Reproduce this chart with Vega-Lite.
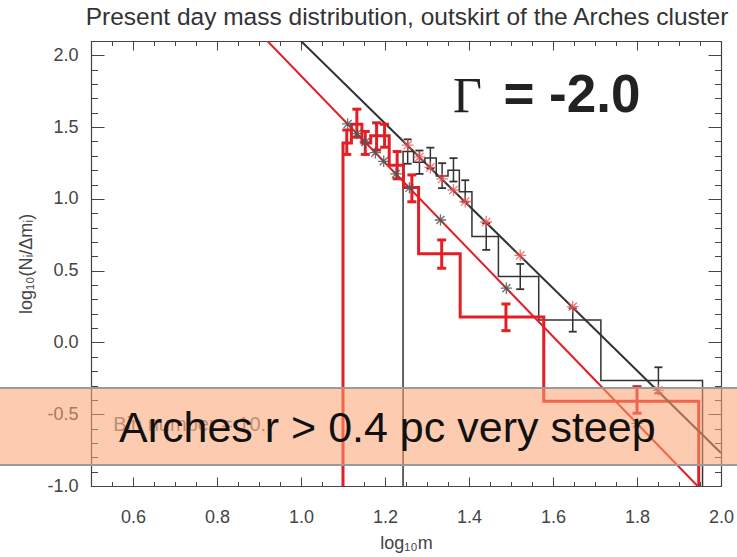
{
  "$schema": "https://vega.github.io/schema/vega-lite/v6.json",
  "width": 630,
  "height": 445,
  "autosize": {"type": "none"},
  "padding": {"left": 91, "top": 41, "right": 16, "bottom": 71},
  "background": "white",
  "config": {"view": {"stroke": null}, "font": "Liberation Sans"},
  "datasets": {
    "blackHist": [
      {"x": 1.243, "y": -1.0, "i": 0},
      {"x": 1.243, "y": 1.33, "i": 1},
      {"x": 1.268, "y": 1.255, "i": 2},
      {"x": 1.295, "y": 1.285, "i": 3},
      {"x": 1.322, "y": 1.16, "i": 4},
      {"x": 1.35, "y": 1.2, "i": 5},
      {"x": 1.377, "y": 1.05, "i": 6},
      {"x": 1.407, "y": 0.738, "i": 7},
      {"x": 1.47, "y": 0.46, "i": 8},
      {"x": 1.566, "y": 0.157, "i": 9},
      {"x": 1.714, "y": -0.265, "i": 10},
      {"x": 1.956, "y": -0.265, "i": 11},
      {"x": 1.956, "y": -1.0, "i": 12}
    ],
    "redHist": [
      {"x": 1.1, "y": -1.0, "i": 0},
      {"x": 1.1, "y": 1.39, "i": 1},
      {"x": 1.12, "y": 1.52, "i": 2},
      {"x": 1.145, "y": 1.39, "i": 3},
      {"x": 1.166, "y": 1.44, "i": 4},
      {"x": 1.19, "y": 1.44, "i": 5},
      {"x": 1.21, "y": 1.235, "i": 6},
      {"x": 1.244, "y": 1.08, "i": 7},
      {"x": 1.28, "y": 0.618, "i": 8},
      {"x": 1.379, "y": 0.178, "i": 9},
      {"x": 1.578, "y": -0.41, "i": 10},
      {"x": 1.947, "y": -0.41, "i": 11},
      {"x": 1.947, "y": -1.0, "i": 12}
    ],
    "blackFit": [{"x": 1.0, "y": 2.1}, {"x": 2.0, "y": -0.77}],
    "redFit": [{"x": 0.92, "y": 2.1}, {"x": 1.944, "y": -1.0}],
    "blackErr": [
      {"x": 1.254, "lo": 1.245, "hi": 1.415},
      {"x": 1.282, "lo": 1.174, "hi": 1.337},
      {"x": 1.308, "lo": 1.213, "hi": 1.357},
      {"x": 1.336, "lo": 1.075, "hi": 1.249},
      {"x": 1.363, "lo": 1.121, "hi": 1.284},
      {"x": 1.391, "lo": 0.98, "hi": 1.13},
      {"x": 1.441, "lo": 0.645, "hi": 0.831},
      {"x": 1.522, "lo": 0.371, "hi": 0.547},
      {"x": 1.647, "lo": 0.075, "hi": 0.238},
      {"x": 1.851, "lo": -0.354, "hi": -0.173}
    ],
    "redErr": [
      {"x": 1.109, "lo": 1.31, "hi": 1.48},
      {"x": 1.133, "lo": 1.43, "hi": 1.625},
      {"x": 1.153, "lo": 1.31, "hi": 1.47},
      {"x": 1.18, "lo": 1.34, "hi": 1.53},
      {"x": 1.199, "lo": 1.36, "hi": 1.52},
      {"x": 1.229, "lo": 1.14, "hi": 1.33},
      {"x": 1.264, "lo": 0.98, "hi": 1.167},
      {"x": 1.335, "lo": 0.517, "hi": 0.714},
      {"x": 1.488, "lo": 0.082, "hi": 0.268},
      {"x": 1.8, "lo": -0.493, "hi": -0.308}
    ],
    "grayStars": [
      {"x": 1.111, "y": 1.522},
      {"x": 1.133, "y": 1.455},
      {"x": 1.153, "y": 1.395},
      {"x": 1.177, "y": 1.322},
      {"x": 1.197, "y": 1.262},
      {"x": 1.226, "y": 1.174},
      {"x": 1.258, "y": 1.077},
      {"x": 1.332, "y": 0.853},
      {"x": 1.489, "y": 0.378},
      {"x": 1.8, "y": -0.564}
    ],
    "pinkStars": [
      {"x": 1.254, "y": 1.374},
      {"x": 1.282, "y": 1.293},
      {"x": 1.308, "y": 1.219},
      {"x": 1.336, "y": 1.139},
      {"x": 1.363, "y": 1.062},
      {"x": 1.391, "y": 0.982},
      {"x": 1.441, "y": 0.839},
      {"x": 1.522, "y": 0.607},
      {"x": 1.647, "y": 0.25},
      {"x": 1.851, "y": -0.334}
    ]
  },
  "resolve": {"axis": {"x": "independent", "y": "independent"}},
  "layer": [
    {
      "data": {"name": "blackHist"},
      "mark": {"type": "line", "interpolate": "step-after", "color": "#333", "strokeWidth": 1.5},
      "encoding": {
        "x": {
          "field": "x", "type": "quantitative",
          "scale": {"domain": [0.5, 2.0], "nice": false, "zero": false},
          "axis": {
            "orient": "bottom",
            "values": [0.5,0.55,0.6,0.65,0.7,0.75,0.8,0.85,0.9,0.95,1.0,1.05,1.1,1.15,1.2,1.25,1.3,1.35,1.4,1.45,1.5,1.55,1.6,1.65,1.7,1.75,1.8,1.85,1.9,1.95,2.0],
            "tickSize": {"condition": {"test": "abs(datum.value*5-round(datum.value*5))<0.001", "value": -9}, "value": -4.5},
            "labelExpr": "abs(datum.value*5-round(datum.value*5))<0.001 ? format(datum.value,'.1f') : ''",
            "labelFontSize": 18, "labelColor": "#444", "labelPadding": 31,
            "labelFlush": false, "labelOverlap": false,
            "tickColor": "#444", "domainColor": "#444", "domainWidth": 1.2, "grid": false,
            "title": "log₁₀m", "titleFontSize": 18, "titleFontWeight": "normal", "titleColor": "#444", "titlePadding": 4
          }
        },
        "y": {
          "field": "y", "type": "quantitative",
          "scale": {"domain": [-1.0, 2.1], "nice": false, "zero": false},
          "axis": {
            "orient": "left",
            "values": [-1.0,-0.9,-0.8,-0.7,-0.6,-0.5,-0.4,-0.3,-0.2,-0.1,0,0.1,0.2,0.3,0.4,0.5,0.6,0.7,0.8,0.9,1.0,1.1,1.2,1.3,1.4,1.5,1.6,1.7,1.8,1.9,2.0,2.1],
            "tickSize": {"condition": {"test": "abs(datum.value*2-round(datum.value*2))<0.001", "value": -13}, "value": -6.5},
            "labelExpr": "abs(datum.value*2-round(datum.value*2))<0.001 ? replace(format(datum.value,'.1f'),'−','-') : ''",
            "labelFontSize": 18, "labelColor": "#444", "labelPadding": 26,
            "labelFlush": false, "labelOverlap": false,
            "tickColor": "#444", "domainColor": "#444", "domainWidth": 1.2, "grid": false,
            "title": "log₁₀(Nᵢ/Δmᵢ)", "titleFontSize": 18, "titleFontWeight": "normal", "titleColor": "#444", "titlePadding": 11
          }
        },
        "order": {"field": "i", "type": "quantitative"}
      }
    },
    {
      "data": {"name": "redHist"},
      "mark": {"type": "line", "interpolate": "step-after", "color": "#e31e24", "strokeWidth": 3},
      "encoding": {
        "x": {
          "field": "x", "type": "quantitative",
          "axis": {
            "orient": "top",
            "values": [0.5,0.55,0.6,0.65,0.7,0.75,0.8,0.85,0.9,0.95,1.0,1.05,1.1,1.15,1.2,1.25,1.3,1.35,1.4,1.45,1.5,1.55,1.6,1.65,1.7,1.75,1.8,1.85,1.9,1.95,2.0],
            "tickSize": {"condition": {"test": "abs(datum.value*5-round(datum.value*5))<0.001", "value": -9}, "value": -4.5},
            "labels": false, "title": null, "minExtent": 0, "maxExtent": 0, "labelPadding": 0,
            "tickColor": "#444", "domainColor": "#444", "domainWidth": 1.2, "grid": false
          }
        },
        "y": {
          "field": "y", "type": "quantitative",
          "axis": {
            "orient": "right",
            "values": [-1.0,-0.9,-0.8,-0.7,-0.6,-0.5,-0.4,-0.3,-0.2,-0.1,0,0.1,0.2,0.3,0.4,0.5,0.6,0.7,0.8,0.9,1.0,1.1,1.2,1.3,1.4,1.5,1.6,1.7,1.8,1.9,2.0,2.1],
            "tickSize": {"condition": {"test": "abs(datum.value*2-round(datum.value*2))<0.001", "value": -13}, "value": -6.5},
            "labels": false, "title": null, "minExtent": 0, "maxExtent": 0,
            "tickColor": "#444", "domainColor": "#444", "domainWidth": 1.2, "grid": false
          }
        },
        "order": {"field": "i", "type": "quantitative"}
      }
    },
    {
      "data": {"name": "blackFit"},
      "mark": {"type": "line", "color": "#333", "strokeWidth": 2, "clip": true},
      "encoding": {
        "x": {"field": "x", "type": "quantitative", "axis": null},
        "y": {"field": "y", "type": "quantitative", "axis": null}
      }
    },
    {
      "data": {"name": "redFit"},
      "mark": {"type": "line", "color": "#e31e24", "strokeWidth": 2, "clip": true},
      "encoding": {
        "x": {"field": "x", "type": "quantitative", "axis": null},
        "y": {"field": "y", "type": "quantitative", "axis": null}
      }
    },
    {
      "data": {"name": "blackErr"},
      "layer": [
        {
          "mark": {"type": "rule", "color": "#333", "strokeWidth": 1.5},
          "encoding": {
            "x": {"field": "x", "type": "quantitative", "axis": null},
            "y": {"field": "lo", "type": "quantitative", "axis": null},
            "y2": {"field": "hi"}
          }
        },
        {
          "mark": {"type": "tick", "orient": "horizontal", "color": "#333", "size": 8, "thickness": 1.8, "opacity": 1},
          "encoding": {
            "x": {"field": "x", "type": "quantitative", "axis": null},
            "y": {"field": "lo", "type": "quantitative", "axis": null}
          }
        },
        {
          "mark": {"type": "tick", "orient": "horizontal", "color": "#333", "size": 8, "thickness": 1.8, "opacity": 1},
          "encoding": {
            "x": {"field": "x", "type": "quantitative", "axis": null},
            "y": {"field": "hi", "type": "quantitative", "axis": null}
          }
        }
      ]
    },
    {
      "data": {"name": "redErr"},
      "layer": [
        {
          "mark": {"type": "rule", "color": "#e31e24", "strokeWidth": 3},
          "encoding": {
            "x": {"field": "x", "type": "quantitative", "axis": null},
            "y": {"field": "lo", "type": "quantitative", "axis": null},
            "y2": {"field": "hi"}
          }
        },
        {
          "mark": {"type": "tick", "orient": "horizontal", "color": "#e31e24", "size": 9, "thickness": 3, "opacity": 1},
          "encoding": {
            "x": {"field": "x", "type": "quantitative", "axis": null},
            "y": {"field": "lo", "type": "quantitative", "axis": null}
          }
        },
        {
          "mark": {"type": "tick", "orient": "horizontal", "color": "#e31e24", "size": 9, "thickness": 3, "opacity": 1},
          "encoding": {
            "x": {"field": "x", "type": "quantitative", "axis": null},
            "y": {"field": "hi", "type": "quantitative", "axis": null}
          }
        }
      ]
    },
    {
      "data": {"name": "grayStars"},
      "mark": {"type": "point", "shape": "M-1,0L1,0M0,-1L0,1M-0.7,-0.7L0.7,0.7M-0.7,0.7L0.7,-0.7", "filled": false, "stroke": "#555", "strokeWidth": 1.3, "size": 130, "opacity": 0.85},
      "encoding": {
        "x": {"field": "x", "type": "quantitative", "axis": null},
        "y": {"field": "y", "type": "quantitative", "axis": null}
      }
    },
    {
      "data": {"name": "pinkStars"},
      "mark": {"type": "point", "shape": "M-1,0L1,0M0,-1L0,1M-0.7,-0.7L0.7,0.7M-0.7,0.7L0.7,-0.7", "filled": false, "stroke": "#ee5555", "strokeWidth": 1.3, "size": 140, "opacity": 0.8},
      "encoding": {
        "x": {"field": "x", "type": "quantitative", "axis": null},
        "y": {"field": "y", "type": "quantitative", "axis": null}
      }
    },
    {
      "data": {"values": [{}]},
      "mark": {"type": "text", "text": "Present day mass distribution, outskirt of the Arches cluster", "font": "Liberation Sans", "fontSize": 24.5, "color": "#333", "align": "center", "baseline": "alphabetic", "clip": false},
      "encoding": {
        "x": {"datum": 1.2524, "type": "quantitative", "axis": null},
        "y": {"datum": 2.2115, "type": "quantitative", "axis": null}
      }
    },
    {
      "data": {"values": [{}]},
      "mark": {"type": "text", "text": "Bin number = 10.", "font": "Liberation Sans", "fontSize": 20, "color": "#777", "align": "left", "baseline": "alphabetic"},
      "encoding": {
        "x": {"datum": 0.553, "type": "quantitative", "axis": null},
        "y": {"datum": -0.62, "type": "quantitative", "axis": null}
      }
    },
    {
      "data": {"values": [{}]},
      "mark": {"type": "text", "text": "Γ", "font": "Liberation Serif", "fontSize": 50, "color": "#222", "align": "left", "baseline": "alphabetic"},
      "encoding": {
        "x": {"datum": 1.362, "type": "quantitative", "axis": null},
        "y": {"datum": 1.608, "type": "quantitative", "axis": null}
      }
    },
    {
      "data": {"values": [{}]},
      "mark": {"type": "text", "text": "= -2.0", "font": "Liberation Sans", "fontWeight": "bold", "fontSize": 53, "color": "#222", "align": "left", "baseline": "alphabetic"},
      "encoding": {
        "x": {"datum": 1.482, "type": "quantitative", "axis": null},
        "y": {"datum": 1.608, "type": "quantitative", "axis": null}
      }
    },
    {
      "data": {"values": [{}]},
      "mark": {"type": "rect", "clip": false, "fill": "#f9a070", "fillOpacity": 0.55, "stroke": "#9a9a9a", "strokeWidth": 2},
      "encoding": {
        "x": {"datum": 0.1, "type": "quantitative", "axis": null},
        "x2": {"datum": 2.3},
        "y": {"datum": -0.317, "type": "quantitative", "axis": null},
        "y2": {"datum": -0.854}
      }
    },
    {
      "data": {"values": [{}]},
      "mark": {"type": "text", "text": "Arches r > 0.4 pc very steep", "font": "Liberation Sans", "fontSize": 43, "color": "#111", "align": "center", "baseline": "alphabetic"},
      "encoding": {
        "x": {"datum": 1.2055, "type": "quantitative", "axis": null},
        "y": {"datum": -0.69, "type": "quantitative", "axis": null}
      }
    }
  ]
}
